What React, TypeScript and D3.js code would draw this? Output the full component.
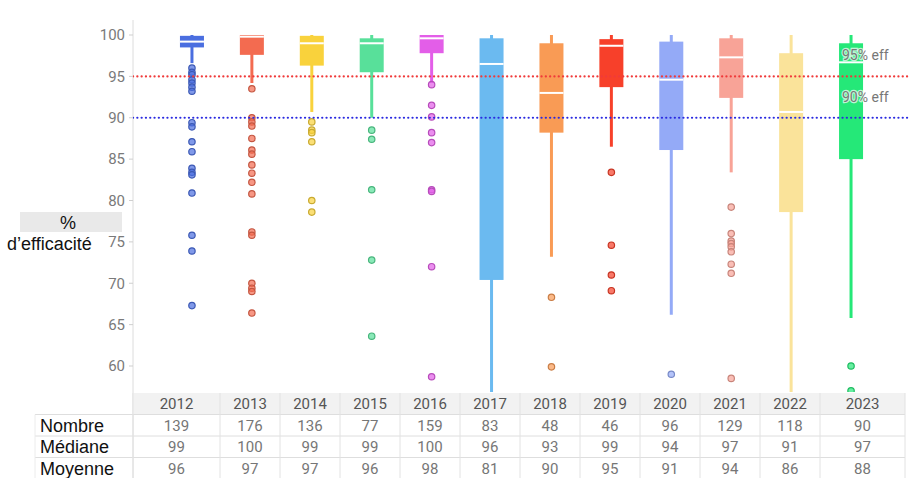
import { useEffect, useRef } from "react";
import * as d3 from "d3";

const years = ["2012", "2013", "2014", "2015", "2016", "2017", "2018", "2019", "2020", "2021", "2022", "2023"];
const colors = ["#4a6ee0", "#f36b50", "#f9d23c", "#58e09a", "#e35ee8", "#6bbaf0", "#f99b55", "#f7402a", "#94aaf7", "#f8a397", "#fae39a", "#25e878"];

const q3 = [99.9, 100, 99.9, 99.6, 100, 99.6, 99.0, 99.5, 99.2, 99.6, 97.8, 99.0];
const medians = [99.2, 99.8, 99.0, 99.0, 99.6, 96.5, 93.0, 98.7, 94.6, 97.3, 90.7, 96.7];
const q1 = [98.5, 97.6, 96.3, 95.5, 97.8, 70.4, 88.2, 93.7, 86.1, 92.4, 78.6, 85.0];
const whiskerLow = [96.6, 94.2, 90.7, 90.0, 94.2, 50, 73.2, 86.5, 66.2, 83.4, 50, 65.8];
const whiskerHigh = [100, 100, 100, 100, 100, 100, 100, 100, 100, 100, 100, 100];

const outliers = [
  [96.0, 95.5, 95.2, 94.6, 94.2, 93.7, 93.2, 89.4, 88.9, 87.1, 85.9, 83.9, 83.4, 83.1, 80.9, 75.8, 73.9, 67.3],
  [93.5, 90.0, 89.5, 89.0, 87.5, 86.1, 85.6, 84.3, 83.3, 82.2, 80.8, 76.2, 75.8, 70.0, 69.4, 69.0, 66.4],
  [89.5, 88.5, 88.2, 87.1, 80.0, 78.6],
  [88.5, 87.4, 81.3, 72.8, 63.6],
  [94.0, 91.5, 90.1, 88.2, 87.0, 81.3, 81.1, 72.0, 58.7],
  [],
  [68.3, 59.9],
  [83.4, 74.6, 71.0, 69.1],
  [59.0],
  [79.2, 76.0, 75.1, 74.8, 74.4, 73.8, 72.3, 71.2, 58.5],
  [],
  [60.0, 57.0],
];

const yTicks = [60, 65, 70, 75, 80, 85, 90, 95, 100];
const refLines = [
  { value: 95, label: "95% eff", color: "#f03a3a" },
  { value: 90, label: "90% eff", color: "#2a2ae0" },
];

const rowLabels = ["Nombre", "Médiane", "Moyenne"];
const counts = [139, 176, 136, 77, 159, 83, 48, 46, 96, 129, 118, 90];
const medianRow = [99, 100, 99, 99, 100, 96, 93, 99, 94, 97, 91, 97];
const meanRow = [96, 97, 97, 96, 98, 81, 90, 95, 91, 94, 86, 88];

export default function App() {
  const svgRef = useRef<SVGSVGElement>(null);
  const width = 910;
  const height = 478;

  useEffect(() => {
    if (!svgRef.current) return;
    const svg = d3.select(svgRef.current);
    svg.selectAll("*").remove();

    const plotLeft = 133;
    const plotRight = 910;
    const plotTop = 20;
    const plotBottom = 392;
    const numFont = "Roboto, 'Noto Sans', sans-serif";
    const labelFont = "'Liberation Sans', Arial, sans-serif";

    const y = d3.scaleLinear().domain([60, 100]).range([366, 35]);
    const x = d3.scaleBand().domain(years).range([162, 881]).padding(0);
    const boxW = 24;

    svg.append("defs")
      .append("clipPath")
      .attr("id", "plot-clip")
      .append("rect")
      .attr("x", plotLeft)
      .attr("y", plotTop)
      .attr("width", plotRight - plotLeft)
      .attr("height", plotBottom - plotTop);

    // y axis
    svg.append("line")
      .attr("x1", plotLeft).attr("x2", plotLeft)
      .attr("y1", plotTop).attr("y2", height)
      .attr("stroke", "#dcdcdc");

    const ticks = svg.append("g");
    ticks.selectAll("line")
      .data(yTicks)
      .enter()
      .append("line")
      .attr("x1", plotLeft - 4).attr("x2", plotLeft)
      .attr("y1", (d) => y(d)).attr("y2", (d) => y(d))
      .attr("stroke", "#cfcfcf");
    ticks.selectAll("text")
      .data(yTicks)
      .enter()
      .append("text")
      .attr("x", plotLeft - 8)
      .attr("y", (d) => y(d))
      .attr("dy", "0.35em")
      .attr("text-anchor", "end")
      .attr("font-family", numFont)
      .attr("font-size", "15px")
      .attr("fill", "#7a7a7a")
      .text((d) => d);

    // y label
    svg.append("rect")
      .attr("x", 20).attr("y", 212)
      .attr("width", 102).attr("height", 20)
      .attr("fill", "#e9e9e9");
    svg.append("text")
      .attr("x", 68).attr("y", 229)
      .attr("text-anchor", "middle")
      .attr("font-family", labelFont)
      .attr("font-size", "18px")
      .attr("fill", "#111")
      .text("%");
    svg.append("text")
      .attr("x", 7).attr("y", 250)
      .attr("font-family", labelFont)
      .attr("font-size", "18px")
      .attr("fill", "#111")
      .text("d’efficacité");

    const plot = svg.append("g").attr("clip-path", "url(#plot-clip)");

    // boxes
    years.forEach((yr, i) => {
      const cx = (x(yr) ?? 0) + x.bandwidth() / 2;
      const c = colors[i];
      plot.append("line")
        .attr("x1", cx).attr("x2", cx)
        .attr("y1", y(whiskerHigh[i])).attr("y2", y(whiskerLow[i]))
        .attr("stroke", c)
        .attr("stroke-width", 3);
      plot.append("rect")
        .attr("x", cx - boxW / 2)
        .attr("y", y(q3[i]))
        .attr("width", boxW)
        .attr("height", y(q1[i]) - y(q3[i]))
        .attr("fill", c);
      plot.append("line")
        .attr("x1", cx - boxW / 2).attr("x2", cx + boxW / 2)
        .attr("y1", y(medians[i])).attr("y2", y(medians[i]))
        .attr("stroke", "#fff")
        .attr("stroke-width", 2);
      const dark = d3.color(c)?.darker(0.6)?.formatHex() ?? c;
      plot.selectAll(`.out-${yr}`)
        .data(outliers[i])
        .enter()
        .append("circle")
        .attr("class", `out-${yr}`)
        .attr("cx", cx)
        .attr("cy", (d) => y(d))
        .attr("r", 3.2)
        .attr("fill", c)
        .attr("fill-opacity", 0.7)
        .attr("stroke", dark)
        .attr("stroke-width", 1.2);
    });

    // reference lines
    refLines.forEach((r) => {
      plot.append("line")
        .attr("x1", plotLeft).attr("x2", plotRight)
        .attr("y1", y(r.value)).attr("y2", y(r.value))
        .attr("stroke", r.color)
        .attr("stroke-width", 2.2)
        .attr("stroke-linecap", "round")
        .attr("stroke-dasharray", "0.1,4.2");
      svg.append("text")
        .attr("x", 842)
        .attr("y", y(r.value) - 16)
        .attr("font-family", numFont)
        .attr("font-size", "14px")
        .attr("fill", "#777")
        .attr("stroke", "rgba(255,255,255,0.7)")
        .attr("stroke-width", 2.5)
        .attr("paint-order", "stroke")
        .text(r.label);
    });

    // table
    const colEdges = [133, 220];
    for (let k = 1; k < years.length - 1; k++) colEdges.push(220 + 60 * k);
    colEdges.push(905);
    const rowTop = 393;
    const rowH = 21.5;

    const table = svg.append("g");
    table.append("rect")
      .attr("x", 133).attr("y", rowTop)
      .attr("width", 905 - 133).attr("height", rowH)
      .attr("fill", "#f2f2f2");
    [1, 2, 3].forEach((r) => {
      table.append("line")
        .attr("x1", 35).attr("x2", 905)
        .attr("y1", rowTop + rowH * r).attr("y2", rowTop + rowH * r)
        .attr("stroke", "#dedede");
    });
    colEdges.forEach((e) => {
      table.append("line")
        .attr("x1", e).attr("x2", e)
        .attr("y1", rowTop).attr("y2", height)
        .attr("stroke", "#e2e2e2");
    });
    table.append("line")
      .attr("x1", 35).attr("x2", 35)
      .attr("y1", rowTop + rowH).attr("y2", height)
      .attr("stroke", "#ececec");

    const rows = [years.map(String), counts.map(String), medianRow.map(String), meanRow.map(String)];
    rows.forEach((vals, r) => {
      vals.forEach((v, i) => {
        table.append("text")
          .attr("x", (colEdges[i] + colEdges[i + 1]) / 2)
          .attr("y", rowTop + rowH * r + rowH / 2)
          .attr("dy", "0.36em")
          .attr("text-anchor", "middle")
          .attr("font-family", numFont)
          .attr("font-size", "15px")
          .attr("fill", r === 0 ? "#555" : "#767676")
          .text(v);
      });
    });
    rowLabels.forEach((l, r) => {
      table.append("text")
        .attr("x", 40)
        .attr("y", rowTop + rowH * (r + 1) + rowH / 2)
        .attr("dy", "0.36em")
        .attr("font-family", labelFont)
        .attr("font-size", "18px")
        .attr("fill", "#111")
        .text(l);
    });
  }, []);

  return (
    <svg
      ref={svgRef}
      width={width}
      height={height}
      style={{ position: "absolute", left: 0, top: 0, background: "#fff" }}
    />
  );
}
